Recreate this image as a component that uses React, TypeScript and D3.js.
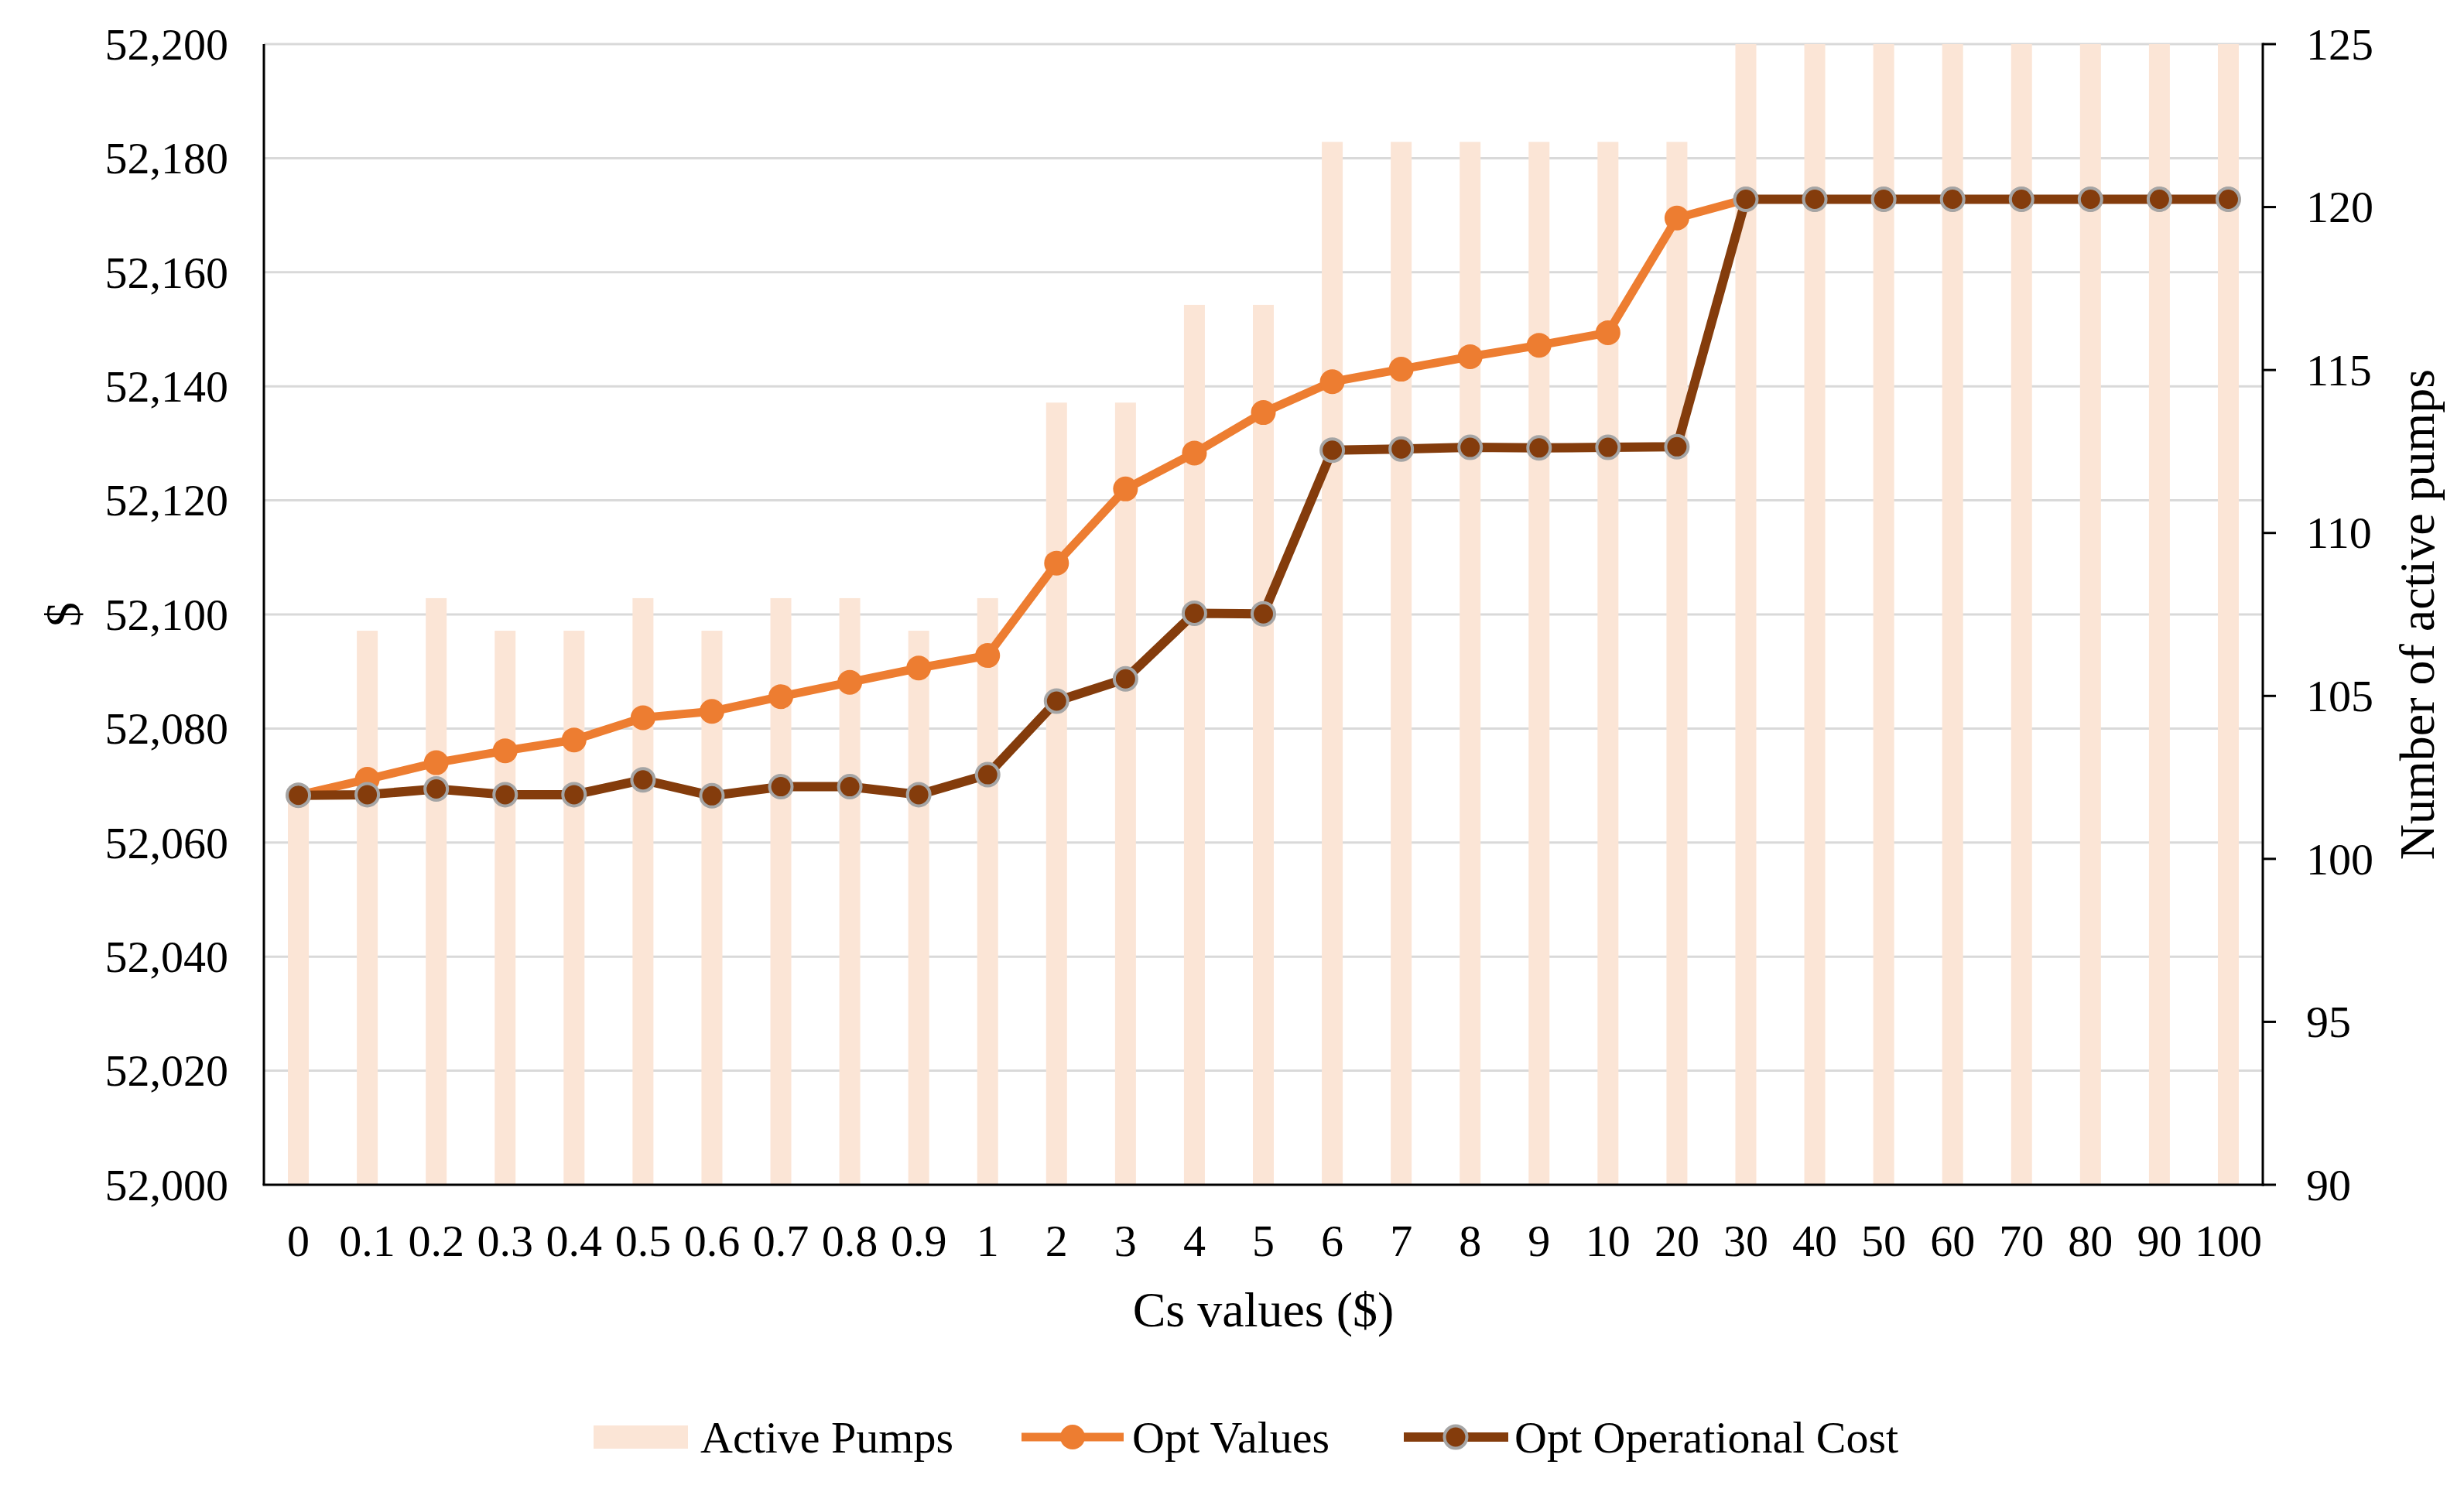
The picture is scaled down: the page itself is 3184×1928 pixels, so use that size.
import React from "react";
import * as d3 from "d3";

const categories = ["0","0.1","0.2","0.3","0.4","0.5","0.6","0.7","0.8","0.9","1","2","3","4","5","6","7","8","9","10","20","30","40","50","60","70","80","90","100"];
const activePumps = [102,107,108,107,107,108,107,108,108,107,108,114,114,117,117,122,122,122,122,122,122,125,125,125,125,125,125,125,125];
const optValues = [52068.3,52071.1,52074.0,52076.1,52078.0,52081.9,52083.0,52085.6,52088.1,52090.6,52092.8,52109.0,52122.0,52128.3,52135.4,52140.8,52143.0,52145.2,52147.2,52149.4,52169.5,52172.8,52172.8,52172.8,52172.8,52172.8,52172.8,52172.8,52172.8];
const optOpCost = [52068.3,52068.4,52069.4,52068.4,52068.4,52071.0,52068.2,52069.8,52069.8,52068.4,52071.9,52084.8,52088.7,52100.2,52100.1,52128.8,52129.0,52129.3,52129.2,52129.3,52129.4,52172.8,52172.8,52172.8,52172.8,52172.8,52172.8,52172.8,52172.8];
const leftTicks = [52000,52020,52040,52060,52080,52100,52120,52140,52160,52180,52200];
const rightTicks = [90,95,100,105,110,115,120,125];
const legendLabels = ["Active Pumps","Opt Values","Opt Operational Cost"];
const xTitle = "Cs values ($)";
const yTitle = "$";
const y2Title = "Number of active pumps";

const W = 3184, H = 1928;
const L = 341, R = 2924, T = 57, B = 1531;
const FONT = "'Liberation Serif', 'Times New Roman', serif";
const FS = 58;
const FT = 64;
const BAR = "#fbe5d6";
const ORANGE = "#ed7d31";
const BROWN = "#843c0c";
const GRAY = "#a5a5a5";

export default function App() {
  const x = d3.scaleBand<string>().domain(categories).range([L, R]).padding(0);
  const cx = (c: string) => (x(c) as number) + x.bandwidth() / 2;
  const yL = d3.scaleLinear().domain([52000, 52200]).range([B, T]);
  const yR = d3.scaleLinear().domain([90, 125]).range([B, T]);
  const fmt = d3.format(",");
  const barW = 27;

  const lineOpt = d3.line<number>().x((_, i) => cx(categories[i])).y((d) => yL(d));

  return (
    <svg width={W} height={H} style={{ position: "absolute", left: 0, top: 0, background: "#fff" }} fontFamily={FONT}>
      <rect x={0} y={0} width={W} height={H} fill="#fff" />
      {leftTicks.filter((t) => t !== 52000).map((t) => (
        <line key={"g" + t} x1={L} x2={R} y1={yL(t)} y2={yL(t)} stroke="#d9d9d9" strokeWidth={3} />
      ))}
      {activePumps.map((v, i) => (
        <rect key={"b" + i} x={cx(categories[i]) - barW / 2} y={yR(v)} width={barW} height={B - yR(v)} fill={BAR} />
      ))}
      <line x1={L} x2={L} y1={T} y2={B} stroke="#000" strokeWidth={3} />
      <line x1={R} x2={R} y1={T - 1.5} y2={B + 1.5} stroke="#000" strokeWidth={3} />
      <line x1={L - 1.5} x2={R + 1.5} y1={B} y2={B} stroke="#000" strokeWidth={3} />
      {rightTicks.map((t) => (
        <line key={"rt" + t} x1={R} x2={R + 17} y1={yR(t)} y2={yR(t)} stroke="#000" strokeWidth={3} />
      ))}
      {leftTicks.map((t) => (
        <text key={"lt" + t} x={295} y={yL(t)} dy="0.34em" textAnchor="end" fontSize={FS} fill="#000">{fmt(t)}</text>
      ))}
      {rightTicks.map((t) => (
        <text key={"rl" + t} x={2980} y={yR(t)} dy="0.34em" textAnchor="start" fontSize={FS} fill="#000">{t}</text>
      ))}
      {categories.map((c) => (
        <text key={"xl" + c} x={cx(c)} y={1623} textAnchor="middle" fontSize={FS} fill="#000">{c}</text>
      ))}
      <text x={(L + R) / 2} y={1714} textAnchor="middle" fontSize={FT} fill="#000">{xTitle}</text>
      <text transform={`translate(103, ${(T + B) / 2}) rotate(-90)`} textAnchor="middle" fontSize={FT} fill="#000">{yTitle}</text>
      <text transform={`translate(3145, ${(T + B) / 2}) rotate(-90)`} textAnchor="middle" fontSize={FT} fill="#000">{y2Title}</text>
      <path d={lineOpt(optValues) || ""} fill="none" stroke={ORANGE} strokeWidth={11} strokeLinejoin="round" />
      {optValues.map((v, i) => (
        <circle key={"o" + i} cx={cx(categories[i])} cy={yL(v)} r={16} fill={ORANGE} />
      ))}
      <path d={lineOpt(optOpCost) || ""} fill="none" stroke={BROWN} strokeWidth={12} strokeLinejoin="round" />
      {optOpCost.map((v, i) => (
        <circle key={"c" + i} cx={cx(categories[i])} cy={yL(v)} r={14.5} fill={BROWN} stroke={GRAY} strokeWidth={4} />
      ))}
      <rect x={767} y={1842} width={122} height={30} fill={BAR} />
      <text x={905} y={1877} fontSize={FS} fill="#000">{legendLabels[0]}</text>
      <line x1={1320} x2={1452} y1={1857} y2={1857} stroke={ORANGE} strokeWidth={11} />
      <circle cx={1386} cy={1857} r={16} fill={ORANGE} />
      <text x={1463} y={1877} fontSize={FS} fill="#000">{legendLabels[1]}</text>
      <line x1={1814} x2={1949} y1={1857} y2={1857} stroke={BROWN} strokeWidth={12} />
      <circle cx={1881} cy={1857} r={14.5} fill={BROWN} stroke={GRAY} strokeWidth={4} />
      <text x={1957} y={1877} fontSize={FS} fill="#000">{legendLabels[2]}</text>
    </svg>
  );
}
